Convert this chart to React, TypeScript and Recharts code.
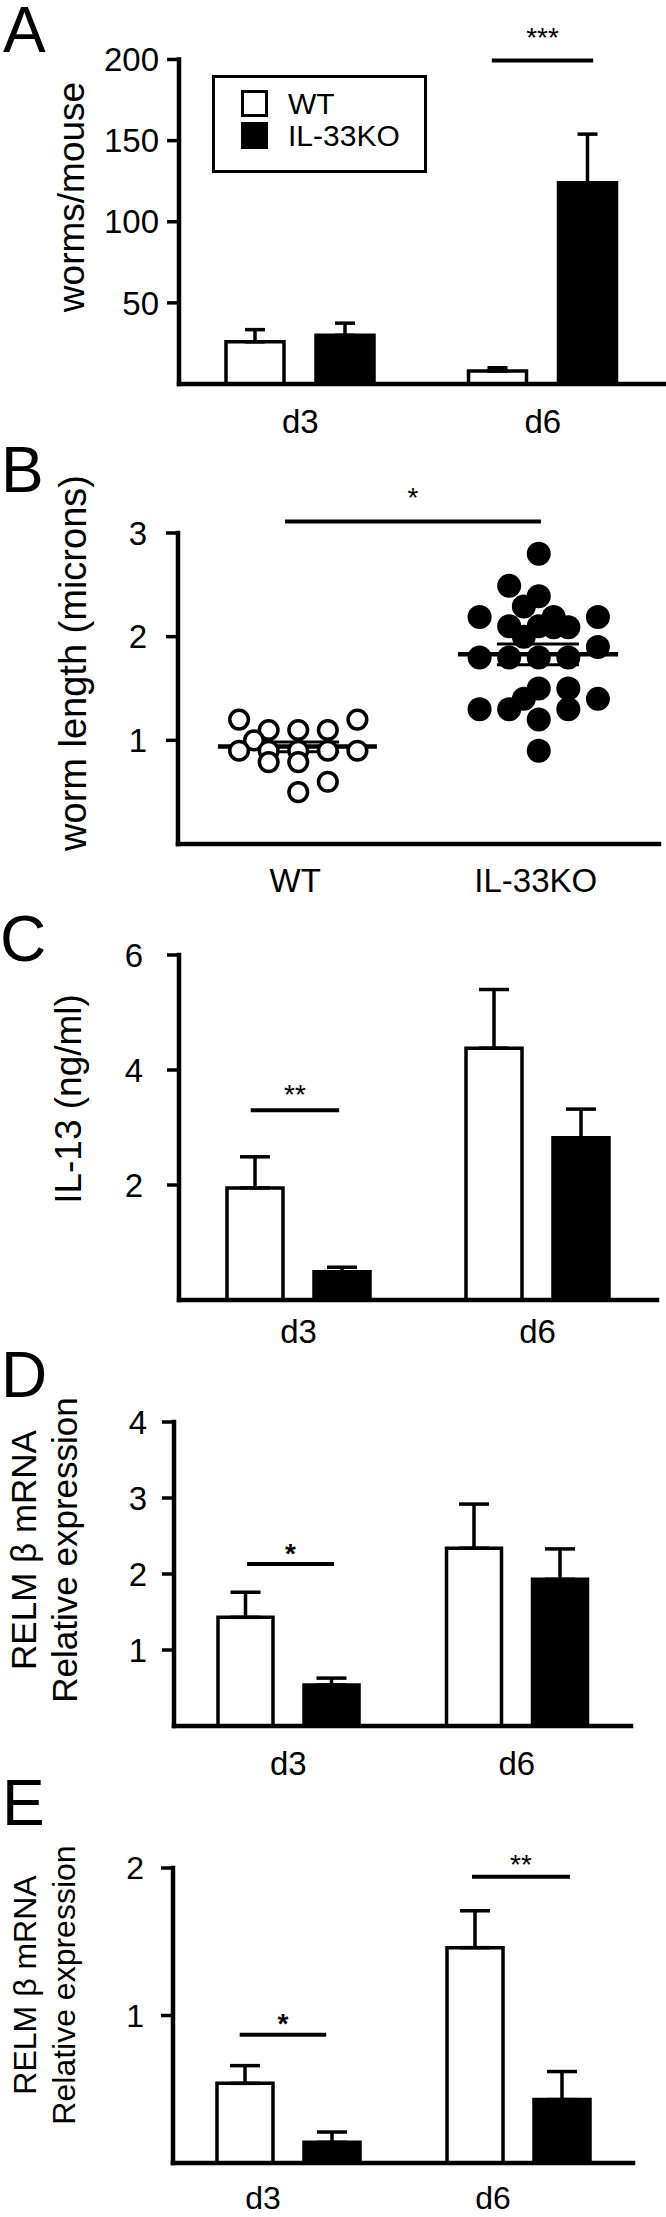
import React from 'react';
import {
  BarChart,
  Bar,
  XAxis,
  YAxis,
  ErrorBar,
  ReferenceLine,
  Legend,
  ScatterChart,
  Scatter,
} from 'recharts';

const FONT = "'Liberation Sans', Arial, Helvetica, sans-serif";

// ---------- Panel A : worms / mouse ----------
const daysA = ['d3', 'd6'];
const wormsWT = [26, 8];
const wormsWTErr = [7.5, 2];
const wormsKO = [30, 124];
const wormsKOErr = [7.5, 30];
const ticksA = [50, 100, 150, 200];

// ---------- Panel B : worm length ----------
const groupsB = ['WT', 'IL-33KO'];
const groupPosB = [0.5, 1.5];
const lengthWTx = [0.254, 0.746, 0.377, 0.5, 0.623, 0.316, 0.254, 0.377, 0.5, 0.623, 0.746, 0.377, 0.5, 0.623, 0.5];
const lengthWTy = [1.2, 1.2, 1.1, 1.1, 1.1, 1.0, 0.9, 0.9, 0.9, 0.9, 0.9, 0.79, 0.79, 0.6, 0.5];
const lengthKOx = [1.5, 1.377, 1.5, 1.438, 1.254, 1.746, 1.562, 1.377, 1.5, 1.623, 1.562, 1.438, 1.746, 1.254, 1.377, 1.5, 1.623, 1.5, 1.623, 1.438, 1.746, 1.254, 1.377, 1.623, 1.5, 1.5];
const lengthKOy = [2.8, 2.49, 2.39, 2.29, 2.19, 2.19, 2.19, 2.1, 2.1, 2.09, 2.09, 2.0, 1.9, 1.8, 1.8, 1.8, 1.8, 1.5, 1.5, 1.4, 1.4, 1.3, 1.3, 1.3, 1.2, 0.9];
const meanWT = 0.94;
const semWT = [0.89, 0.985];
const meanKO = 1.83;
const semKO = [1.73, 1.93];
const ticksB = [1, 2, 3];

// ---------- Panel C : IL-13 ----------
const daysC = ['d3', 'd6'];
const il13WT = [1.95, 4.38];
const il13WTErr = [0.54, 1.02];
const il13KO = [0.49, 2.82];
const il13KOErr = [0.08, 0.5];
const ticksC = [2, 4, 6];

// ---------- Panel D : RELM beta (1) ----------
const daysD = ['d3', 'd6'];
const relmDWT = [1.43, 2.34];
const relmDWTErr = [0.33, 0.58];
const relmDKO = [0.54, 1.93];
const relmDKOErr = [0.09, 0.4];
const ticksD = [1, 2, 3, 4];

// ---------- Panel E : RELM beta (2) ----------
const daysE = ['d3', 'd6'];
const relmEWT = [0.54, 1.46];
const relmEWTErr = [0.12, 0.25];
const relmEKO = [0.14, 0.43];
const relmEKOErr = [0.07, 0.19];
const ticksE = [1, 2];

const SERIES = [
  { key: 'wt', name: 'WT', fill: '#fff' },
  { key: 'ko', name: 'IL-33KO', fill: '#000' },
];

type Sig = { x1: number; x2: number; y: number; text: string; offset: number; bold?: boolean };

// x positions are fractions of the plot width (hidden 0..1 axis)
const sigA: Sig[] = [{ x1: 0.645, x2: 0.854, y: 199.4, text: '***', offset: 13 }];
// panel B uses its own 0..2 numeric axis
const sigB: Sig[] = [{ x1: 0.445, x2: 1.509, y: 3.11, text: '*', offset: 15 }];
const sigC: Sig[] = [{ x1: 0.15, x2: 0.335, y: 3.3, text: '**', offset: 6 }];
const sigD: Sig[] = [{ x1: 0.16, x2: 0.35, y: 2.13, text: '*', offset: 1, bold: true }];
const sigE: Sig[] = [
  { x1: 0.145, x2: 0.333, y: 0.87, text: '*', offset: 2, bold: true },
  { x1: 0.65, x2: 0.863, y: 1.94, text: '**', offset: 3 },
];

// axis titles (page coordinates of the rotated text centre)
const yTitles = [
  { lines: ['worms/mouse'], xs: [71], cy: 197, fs: 37 },
  { lines: ['worm length (microns)'], xs: [73], cy: 663, fs: 38 },
  { lines: ['IL-13 (ng/ml)'], xs: [68], cy: 1099, fs: 37 },
  { lines: ['RELM β mRNA', 'Relative expression'], xs: [23, 64], cy: 1550, fs: 35 },
  { lines: ['RELM β mRNA', 'Relative expression'], xs: [25, 64], cy: 1985, fs: 32 },
];

function XTick(props: any) {
  const { x, y, payload, offX = 0, offY = 0, fs = 33, labelOf } = props;
  const txt = labelOf ? labelOf(payload.value) : payload.value;
  return (
    <text x={x + offX} y={y + offY} textAnchor="middle" fontSize={fs} fontFamily={FONT} fill="#000">
      {txt}
    </text>
  );
}

function LegendBox({ payload }: any) {
  const names = ((payload ?? []) as any[]).map((p) => p.value);
  const items = SERIES.filter((s) => names.length === 0 || names.includes(s.name));
  return (
    <div
      style={{
        width: 215,
        height: 98,
        border: '3px solid #000',
        boxSizing: 'border-box',
        position: 'relative',
        background: '#fff',
        fontFamily: FONT,
      }}
    >
      {items.map((it, i) => (
        <div
          key={it.name}
          style={{ position: 'absolute', left: 26, top: 12 + i * 32, height: 27, display: 'flex', alignItems: 'center' }}
        >
          <span
            style={{
              width: 27,
              height: 27,
              boxSizing: 'border-box',
              border: '3px solid #000',
              background: it.fill,
              display: 'inline-block',
            }}
          />
          <span style={{ marginLeft: 20, fontSize: 30, lineHeight: '27px', color: '#000' }}>{it.name}</span>
        </div>
      ))}
    </div>
  );
}

const AXIS_LINE = { stroke: '#000', strokeWidth: 4.5, strokeLinecap: 'square' as const };
const TICK_LINE = { stroke: '#000', strokeWidth: 3.5 };

function sigLines(sigs: Sig[], xAxisId: string | number) {
  return sigs.map((s, i) => (
    <ReferenceLine
      key={`sig${i}`}
      xAxisId={xAxisId}
      segment={[
        { x: s.x1, y: s.y },
        { x: s.x2, y: s.y },
      ]}
      stroke="#000"
      strokeWidth={4}
      ifOverflow="visible"
      label={{
        value: s.text,
        position: 'top',
        offset: s.offset,
        fill: '#000',
        fontSize: 28,
        fontFamily: FONT,
        fontWeight: s.bold ? 700 : 400,
      }}
    />
  ));
}

interface BarPanelProps {
  top: number;
  plotTop: number;
  plotBottom: number;
  xAxisHeight: number;
  axisX: number;
  axisRight: number;
  cats: string[];
  wt: number[];
  wtErr: number[];
  ko: number[];
  koErr: number[];
  yMax: number;
  ticks: number[];
  tickFont: number;
  tickMargin: number;
  barSize: number;
  barGap: number;
  cap: number;
  xLabelDy: number;
  xLabelDx: number;
  sigs: Sig[];
  legend?: boolean;
}

function BarPanel(p: BarPanelProps) {
  const data = p.cats.map((c, i) => ({
    cat: c,
    wt: p.wt[i],
    ko: p.ko[i],
    wtErr: [0, p.wtErr[i]],
    koErr: [0, p.koErr[i]],
  }));
  const h = p.plotBottom - p.top + p.xAxisHeight;
  return (
    <div style={{ position: 'absolute', left: 0, top: p.top, fontFamily: FONT }}>
      <BarChart
        width={666}
        height={h}
        data={data}
        margin={{ top: p.plotTop - p.top, right: 666 - p.axisRight, bottom: 0, left: 0 }}
        barGap={p.barGap}
        barSize={p.barSize}
      >
        <XAxis
          dataKey="cat"
          tickLine={false}
          axisLine={AXIS_LINE}
          height={p.xAxisHeight}
          tickSize={0}
          tickMargin={0}
          interval={0}
          tick={<XTick offX={p.xLabelDx} offY={p.xLabelDy} fs={p.tickFont} />}
        />
        <XAxis xAxisId="frac" type="number" domain={[0, 1]} hide allowDataOverflow />
        <YAxis
          domain={[0, p.yMax]}
          ticks={p.ticks}
          allowDataOverflow
          width={p.axisX}
          tickSize={12}
          tickMargin={p.tickMargin}
          interval={0}
          axisLine={AXIS_LINE}
          tickLine={TICK_LINE}
          tick={{ fill: '#000', fontSize: p.tickFont, fontFamily: FONT }}
        />
        {SERIES.map((s) => (
          <Bar
            key={s.key}
            dataKey={s.key}
            name={s.name}
            fill={s.fill}
            stroke="#000"
            strokeWidth={3.5}
            isAnimationActive={false}
          >
            <ErrorBar
              dataKey={`${s.key}Err`}
              width={p.cap}
              stroke="#000"
              strokeWidth={3.5}
              direction="y"
              isAnimationActive={false}
            />
          </Bar>
        ))}
        {sigLines(p.sigs, 'frac')}
        {p.legend && (
          <Legend
            layout="horizontal"
            verticalAlign="middle"
            align="center"
            wrapperStyle={{ left: 212, top: 75, width: 215, height: 98 }}
            content={(props: any) => <LegendBox payload={props.payload} />}
          />
        )}
      </BarChart>
    </div>
  );
}

function ScatterPanel() {
  const top = 440;
  const plotTop = 533;
  const plotBottom = 844;
  const wtData = lengthWTx.map((x, i) => ({ x, y: lengthWTy[i] }));
  const koData = lengthKOx.map((x, i) => ({ x, y: lengthKOy[i] }));
  const labelOf = (v: number) => groupsB[groupPosB.indexOf(v)] ?? '';
  return (
    <div style={{ position: 'absolute', left: 0, top, fontFamily: FONT }}>
      <ScatterChart
        width={666}
        height={plotBottom - top + 64}
        margin={{ top: plotTop - top, right: 666 - 659, bottom: 0, left: 0 }}
      >
        <XAxis
          type="number"
          dataKey="x"
          domain={[0, 2]}
          ticks={groupPosB}
          allowDataOverflow
          tickLine={false}
          axisLine={AXIS_LINE}
          height={64}
          tickSize={0}
          tickMargin={0}
          interval={0}
          tick={<XTick offX={-3} offY={48} fs={33} labelOf={labelOf} />}
        />
        <YAxis
          type="number"
          dataKey="y"
          domain={[0, 3]}
          ticks={ticksB}
          allowDataOverflow
          width={178}
          tickSize={12}
          tickMargin={19}
          interval={0}
          axisLine={AXIS_LINE}
          tickLine={TICK_LINE}
          tick={{ fill: '#000', fontSize: 33, fontFamily: FONT }}
        />
        <Scatter
          name="WT"
          data={wtData}
          isAnimationActive={false}
          shape={(s: any) => <circle cx={s.cx} cy={s.cy} r={9.3} fill="#fff" stroke="#000" strokeWidth={3.5} />}
        />
        <Scatter
          name="IL-33KO"
          data={koData}
          isAnimationActive={false}
          shape={(s: any) => <circle cx={s.cx} cy={s.cy} r={12} fill="#000" />}
        />
        <ReferenceLine segment={[{ x: 0.166, y: meanWT }, { x: 0.827, y: meanWT }]} stroke="#000" strokeWidth={4.5} ifOverflow="visible" />
        {semWT.map((v, i) => (
          <ReferenceLine key={`sw${i}`} segment={[{ x: 0.34, y: v }, { x: 0.67, y: v }]} stroke="#000" strokeWidth={3} ifOverflow="visible" />
        ))}
        <ReferenceLine segment={[{ x: 1.164, y: meanKO }, { x: 1.83, y: meanKO }]} stroke="#000" strokeWidth={4.5} ifOverflow="visible" />
        {semKO.map((v, i) => (
          <ReferenceLine key={`sk${i}`} segment={[{ x: 1.326, y: v }, { x: 1.667, y: v }]} stroke="#000" strokeWidth={3} ifOverflow="visible" />
        ))}
        {sigLines(sigB, 0)}
      </ScatterChart>
    </div>
  );
}

const panelLetters = [
  { t: 'A', x: 3, y: 52 },
  { t: 'B', x: 1, y: 492 },
  { t: 'C', x: 0, y: 961 },
  { t: 'D', x: 1, y: 1397 },
  { t: 'E', x: 2, y: 1825 },
];

export default function App() {
  return (
    <div
      style={{
        position: 'absolute',
        left: 0,
        top: 0,
        width: 666,
        height: 2217,
        overflow: 'hidden',
        background: '#fff',
        fontFamily: FONT,
      }}
    >
      <BarPanel
        top={0}
        plotTop={59.5}
        plotBottom={384}
        xAxisHeight={64}
        axisX={179}
        axisRight={664}
        cats={daysA}
        wt={wormsWT}
        wtErr={wormsWTErr}
        ko={wormsKO}
        koErr={wormsKOErr}
        yMax={200}
        ticks={ticksA}
        tickFont={33}
        tickMargin={8}
        barSize={58}
        barGap={32}
        cap={10}
        xLabelDy={49}
        xLabelDx={0}
        sigs={sigA}
        legend
      />
      <ScatterPanel />
      <BarPanel
        top={900}
        plotTop={955}
        plotBottom={1300}
        xAxisHeight={64}
        axisX={179}
        axisRight={657}
        cats={daysC}
        wt={il13WT}
        wtErr={il13WTErr}
        ko={il13KO}
        koErr={il13KOErr}
        yMax={6}
        ticks={ticksC}
        tickFont={33}
        tickMargin={24}
        barSize={56}
        barGap={31}
        cap={15}
        xLabelDy={43}
        xLabelDx={0}
        sigs={sigC}
      />
      <BarPanel
        top={1350}
        plotTop={1422}
        plotBottom={1726}
        xAxisHeight={64}
        axisX={174}
        axisRight={631}
        cats={daysD}
        wt={relmDWT}
        wtErr={relmDWTErr}
        ko={relmDKO}
        koErr={relmDKOErr}
        yMax={4}
        ticks={ticksD}
        tickFont={33}
        tickMargin={15}
        barSize={55}
        barGap={31}
        cap={15}
        xLabelDy={49}
        xLabelDx={0}
        sigs={sigD}
      />
      <BarPanel
        top={1790}
        plotTop={1868}
        plotBottom={2163}
        xAxisHeight={54}
        axisX={173}
        axisRight={633}
        cats={daysE}
        wt={relmEWT}
        wtErr={relmEWTErr}
        ko={relmEKO}
        koErr={relmEKOErr}
        yMax={2}
        ticks={ticksE}
        tickFont={32}
        tickMargin={17}
        barSize={56}
        barGap={31}
        cap={15}
        xLabelDy={46}
        xLabelDx={-25}
        sigs={sigE}
      />
      <svg
        width={666}
        height={2217}
        style={{ position: 'absolute', left: 0, top: 0, pointerEvents: 'none' }}
      >
        {panelLetters.map((l) => (
          <text key={l.t} x={l.x} y={l.y} fontSize={64} fontFamily={FONT} fill="#000">
            {l.t}
          </text>
        ))}
        {yTitles.map((t, k) =>
          t.lines.map((line, i) => (
            <text
              key={`${k}-${i}`}
              x={t.xs[i]}
              y={t.cy}
              transform={`rotate(-90 ${t.xs[i]} ${t.cy})`}
              textAnchor="middle"
              dominantBaseline="central"
              fontSize={t.fs}
              fontFamily={FONT}
              fill="#000"
            >
              {line}
            </text>
          ))
        )}
      </svg>
    </div>
  );
}
